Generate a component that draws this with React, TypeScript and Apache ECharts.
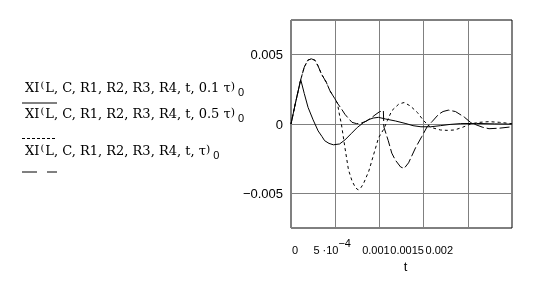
import React, { useEffect, useRef } from 'react';
import * as echarts from 'echarts';

// Series names (legend expressions)
const seriesNames = [
  'XI(L, C, R1, R2, R3, R4, t, 0.1 τ)0',
  'XI(L, C, R1, R2, R3, R4, t, 0.5 τ)0',
  'XI(L, C, R1, R2, R3, R4, t, τ)0',
];

// Solid curve: pulse width 0.1 τ
const tSolid = [0, 0.00005, 0.00011, 0.00015, 0.000193, 0.00025, 0.000307, 0.00035, 0.00038, 0.00043, 0.00048, 0.00055, 0.00061, 0.00068, 0.00075, 0.00082, 0.00088, 0.00093, 0.00099, 0.00107, 0.00118, 0.0013, 0.00138, 0.00147, 0.00158, 0.00169, 0.0018, 0.00192, 0.0021, 0.0023, 0.0025];
const vSolid = [0, 0.0015, 0.0032, 0.0022, 0.0012, 0.0003, -0.0005, -0.0009, -0.0012, -0.0014, -0.0015, -0.00144, -0.00115, -0.0007, -0.00025, 0.0001, 0.00032, 0.00043, 0.00048, 0.00036, 0.00022, 0.00003, -0.00012, -0.0002, -0.0002, -0.00012, -0.00003, 0.00003, 0.00004, 0.00001, -0.00001];

// Dotted curve: pulse width 0.5 τ
const tDotted = [0, 0.00005, 0.00011, 0.00015, 0.00019, 0.00023, 0.00027, 0.000305, 0.000345, 0.0004, 0.00044, 0.000508, 0.000525, 0.00055, 0.00057, 0.00061, 0.00065, 0.00069, 0.00073, 0.00076, 0.00079, 0.00082, 0.00088, 0.000935, 0.00099, 0.00105, 0.00109, 0.00114, 0.00122, 0.00128, 0.00135, 0.00143, 0.0015, 0.00158, 0.00169, 0.00177, 0.00185, 0.00194, 0.00203, 0.00213, 0.00224, 0.00236, 0.0025];
const vDotted = [0, 0.0015, 0.0032, 0.0041, 0.0046, 0.0047, 0.0046, 0.0042, 0.0036, 0.003, 0.0024, 0.0017, 0.0015, 0.0006, 0, -0.0017, -0.0033, -0.0041, -0.0046, -0.00475, -0.0046, -0.0043, -0.0034, -0.0022, -0.001, -0.00036, 0.00024, 0.00096, 0.00144, 0.00155, 0.0013, 0.00083, 0.00024, -0.00024, -0.00043, -0.00046, -0.00043, -0.00024, 0, 0.00012, 0.00017, 0.00012, 0.00002];

// Dashed curve: pulse width τ
const tDashed = [0, 0.00005, 0.00011, 0.00015, 0.00019, 0.00023, 0.00027, 0.000305, 0.000345, 0.0004, 0.00044, 0.000508, 0.000525, 0.00057, 0.00061, 0.00064, 0.00069, 0.00074, 0.00078, 0.00085, 0.0009, 0.00095, 0.001, 0.001045, 0.00105, 0.0011, 0.00114, 0.00118, 0.00124, 0.00128, 0.00133, 0.00141, 0.00148, 0.00154, 0.0016, 0.00167, 0.00172, 0.00178, 0.00186, 0.00196, 0.00203, 0.00209, 0.00217, 0.00224, 0.00236, 0.0025];
const vDashed = [0, 0.0015, 0.0032, 0.0041, 0.0046, 0.0047, 0.0046, 0.0042, 0.0036, 0.003, 0.0024, 0.0017, 0.0015, 0.0011, 0.0007, 0.00048, 0.00012, 0.00003, 0.00003, 0.0002, 0.0004, 0.00065, 0.00088, 0.00096, -0.0002, -0.0012, -0.0021, -0.0026, -0.0031, -0.0032, -0.0028, -0.0017, -0.0009, -0.0002, 0.0002, 0.0007, 0.0009, 0.001, 0.0009, 0.0005, 0.00012, -0.00005, -0.00024, -0.00034, -0.0003, -0.0002];

// Axis ticks and labels
const xTickValues = [0, 0.0005, 0.001, 0.0015, 0.002];
const xTickLabels = ['{z|0}', '{m|5 ·10}{e|−4}', '{a|0.001}', '{b|0.0015}', '{c|0.002}'];
const yTickValues = [-0.005, 0, 0.005];
const yTickLabels = ['−0.005', '0', '0.005'];
const xAxisName = 't';

const SANS = "'Liberation Sans', Arial, sans-serif";
const SERIF = "'DejaVu Serif', serif";

function zip(t: number[], v: number[]) {
  return t.map((x, i) => [x, v[i]]);
}

function legendRich(name: string) {
  const inner = name.slice(3, name.length - 2);
  return `{n|XI}{p|(}{n|${inner}}{q|)}{s|0}`;
}

export default function App() {
  const ref = useRef<HTMLDivElement>(null);
  useEffect(() => {
    const chart = echarts.init(ref.current!, null, { renderer: 'svg' });
    const base = { fontSize: 11, fontFamily: SANS, color: '#000', lineHeight: 26, verticalAlign: 'middle' as const };
    const legendRichStyles = {
      n: { fontSize: 13, fontFamily: SERIF, fill: '#000', lineHeight: 20, verticalAlign: 'middle' },
      p: { fontSize: 10, fontFamily: SERIF, fill: '#000', lineHeight: 10, padding: [2, 1, 8, 1], verticalAlign: 'middle' },
      q: { fontSize: 11, fontFamily: SERIF, fill: '#000', lineHeight: 11, padding: [4, 1, 5, 0], verticalAlign: 'middle' },
      s: { fontSize: 11, fontFamily: SANS, fill: '#000', lineHeight: 11, padding: [9, 0, 0, 2], verticalAlign: 'middle' },
    };
    const legendY = [87, 113, 150];
    const legendLineY = [103, 138.5, 172];
    const dashes: any[] = ['solid', [3, 2], [15, 10, 10, 10]];
    const graphic: any[] = [];
    seriesNames.forEach((nm, i) => {
      graphic.push({
        type: 'text',
        x: 25,
        y: legendY[i],
        style: { text: legendRich(nm), rich: legendRichStyles, fill: '#000', fontFamily: SERIF, fontSize: 13, verticalAlign: 'middle' },
      });
      graphic.push({
        type: 'line',
        shape: { x1: 22, y1: legendLineY[i], x2: i === 1 ? 55 : 57, y2: legendLineY[i] },
        style: { stroke: '#000', lineWidth: 1, lineDash: dashes[i] === 'solid' ? null : dashes[i] },
      });
    });

    const lineTypes: any[] = ['solid', [3, 3], [10, 3]];
    const datas = [zip(tSolid, vSolid), zip(tDotted, vDotted), zip(tDashed, vDashed)];

    chart.setOption({
      animation: false,
      grid: { left: 291, top: 20, width: 221, height: 208, show: true, borderColor: '#000', borderWidth: 1, backgroundColor: 'transparent' },
      xAxis: {
        type: 'value',
        min: 0,
        max: 0.0025,
        interval: 0.0005,
        name: xAxisName,
        nameLocation: 'middle',
        nameGap: 28,
        nameTextStyle: { fontSize: 13, fontFamily: SANS, color: '#000', padding: [0, 0, 0, 8] },
        axisLine: { show: false },
        axisTick: { show: false },
        splitLine: { show: true, lineStyle: { color: '#808080', width: 1 } },
        axisLabel: {
          margin: 9,
          showMaxLabel: false,
          formatter: (v: number) => {
            const idx = xTickValues.findIndex((x) => Math.abs(x - v) < 1e-9);
            return idx >= 0 ? xTickLabels[idx] : '';
          },
          rich: {
            z: { ...base, padding: [0, 0, 0, 8] },
            m: { ...base, padding: [0, 0, 0, 0] },
            e: { fontSize: 11, fontFamily: SANS, color: '#000', lineHeight: 12, padding: [0, 6, 0, 0], verticalAlign: 'top' },
            a: { ...base, padding: [0, 7, 0, 0] },
            b: { ...base, padding: [0, 33, 0, 0] },
            c: { ...base, padding: [0, 57, 0, 0] },
          },
        },
      },
      yAxis: {
        type: 'value',
        min: -0.0075,
        max: 0.0075,
        interval: 0.0025,
        axisLine: { show: false },
        axisTick: { show: false, customValues: yTickValues },
        splitLine: { show: true, lineStyle: { color: '#808080', width: 1 } },
        axisLabel: {
          customValues: yTickValues,
          margin: 8,
          fontSize: 13,
          fontFamily: SANS,
          color: '#000',
          formatter: (v: number) => {
            const idx = yTickValues.findIndex((x) => Math.abs(x - v) < 1e-9);
            return idx >= 0 ? yTickLabels[idx] : '';
          },
        },
      },
      series: seriesNames.map((nm, i) => ({
        name: nm,
        type: 'line',
        data: datas[i],
        showSymbol: false,
        symbol: 'none',
        smooth: false,
        lineStyle: { color: '#000', width: 1, type: lineTypes[i] },
        z: 3 + i,
      })),
      graphic,
    });
    return () => chart.dispose();
  }, []);
  return <div ref={ref} style={{ position: 'fixed', left: 0, top: 0, width: 556, height: 281 }} />;
}
